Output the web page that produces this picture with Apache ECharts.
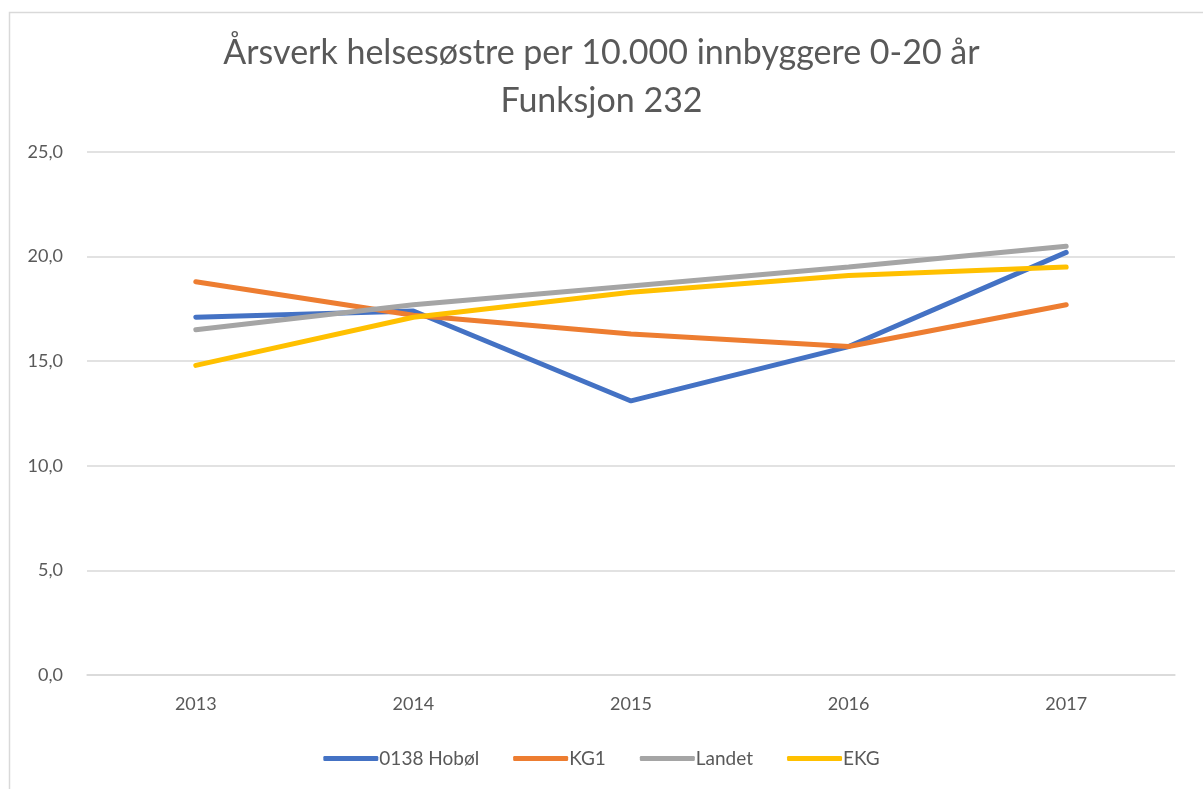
<!DOCTYPE html>
<html>
<head>
<meta charset="utf-8">
<title>Årsverk helsesøstre</title>
<script src="https://cdn.jsdelivr.net/npm/echarts@6/dist/echarts.min.js"></script>
<style>
  html, body { margin: 0; padding: 0; background: #fff; }
  #chart { width: 1203px; height: 789px; }
</style>
</head>
<body>
<div id="chart"></div>
<script>
// data
const years = ['2013', '2014', '2015', '2016', '2017'];
const hobol = [17.1, 17.4, 13.1, 15.7, 20.2];
const kg1 = [18.8, 17.2, 16.3, 15.7, 17.7];
const landet = [16.5, 17.7, 18.6, 19.5, 20.5];
const ekg = [14.8, 17.1, 18.3, 19.1, 19.5];

const font = 'Lato, "Open Sans", sans-serif';
const textColor = '#595959';

const chart = echarts.init(document.getElementById('chart'));

function line(name, data, color) {
  return {
    name: name,
    type: 'line',
    data: data,
    symbol: 'none',
    lineStyle: { color: color, width: 5, cap: 'round' },
    itemStyle: { color: color },
    animation: false,
  };
}

chart.setOption({
  backgroundColor: '#fff',
  graphic: [
    {
      type: 'rect',
      left: 7,
      top: 10,
      shape: { width: 1300, height: 900 },
      style: { fill: 'none', stroke: '#d9d9d9', lineWidth: 1.5 },
      silent: true,
    },
  ],
  title: {
    text: 'Årsverk helsesøstre per 10.000 innbyggere 0-20 år\nFunksjon 232',
    left: 'center',
    top: 24,
    textStyle: {
      fontFamily: font,
      fontWeight: 'normal',
      fontSize: 34,
      color: textColor,
      lineHeight: 48,
    },
  },
  legend: {
    bottom: 16,
    left: 'center',
    itemWidth: 55,
    itemHeight: 5,
    itemGap: 34,
    icon: 'roundRect',
    textStyle: { fontFamily: font, fontSize: 19, color: textColor, padding: [0, 0, 0, -4] },
    data: ['0138 Hobøl', 'KG1', 'Landet', 'EKG'],
  },
  grid: {
    left: 87,
    right: 28,
    top: 152,
    bottom: 114,
  },
  xAxis: {
    type: 'category',
    data: years,
    boundaryGap: true,
    axisLine: { show: true, lineStyle: { color: '#d9d9d9', width: 1.5 } },
    axisTick: { show: false },
    axisLabel: { fontFamily: font, fontSize: 18, color: textColor, margin: 20 },
  },
  yAxis: {
    type: 'value',
    min: 0,
    max: 25,
    interval: 5,
    axisLine: { show: false },
    axisTick: { show: false },
    splitLine: { lineStyle: { color: '#d9d9d9', width: 1.5 } },
    axisLabel: {
      fontFamily: font,
      fontSize: 18,
      color: textColor,
      margin: 24,
      formatter: (v) => v.toFixed(1).replace('.', ','),
    },
  },
  series: [
    line('0138 Hobøl', hobol, '#4472C4'),
    line('KG1', kg1, '#ED7D31'),
    line('Landet', landet, '#A5A5A5'),
    line('EKG', ekg, '#FFC000'),
  ],
});
</script>
</body>
</html>
